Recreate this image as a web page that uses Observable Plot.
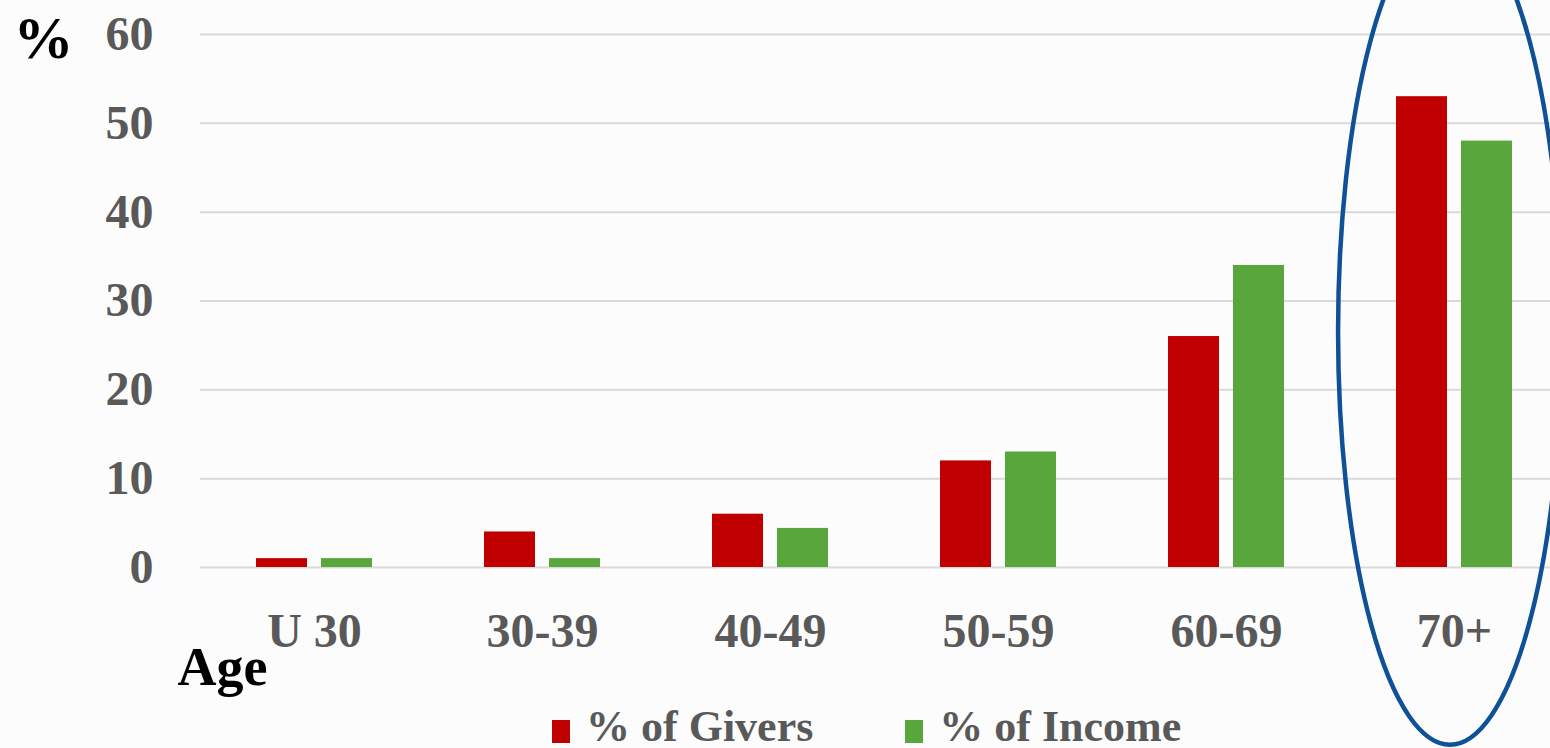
<!DOCTYPE html>
<html>
<head>
<meta charset="utf-8">
<script src="https://cdn.jsdelivr.net/npm/d3@7"></script>
<script src="https://cdn.jsdelivr.net/npm/@observablehq/plot@0.6"></script>
<style>
  html, body { margin: 0; padding: 0; background: #fcfcfc; overflow: hidden; width: 1550px; height: 748px; }
  #chart svg { display: block; }
  .legend { position: relative; height: 43px; font-family: "Liberation Serif", "Times New Roman", serif; font-weight: bold; font-size: 44px; line-height: 43px; color: #595959; white-space: nowrap; padding-left: 552px; }
  .legend .item { display: inline-block; }
  .legend .sw { display: inline-block; width: 18px; height: 23px; vertical-align: -2px; margin-right: 16px; }
</style>
</head>
<body>
<div id="chart"></div>
<script>
const ages = ["U 30", "30-39", "40-49", "50-59", "60-69", "70+"];
const giversPct = [1, 4, 6, 12, 26, 53];
const incomePct = [1, 1, 4.4, 13, 34, 48];
const yTicks = [0, 10, 20, 30, 40, 50, 60];
const seriesNames = ["% of Givers", "% of Income"];
const seriesColors = ["#C00000", "#58A63C"];
const highlightAge = "70+";
const highlightSpan = [-20, 73];

const givers = ages.map((a, i) => ({age: a, value: giversPct[i]}));
const income = ages.map((a, i) => ({age: a, value: incomePct[i]}));

const font = "'Liberation Serif', 'Times New Roman', serif";

function ellipseMark(index, scales) {
  const sx = scales.x, sy = scales.y;
  let bw = sx.bandwidth;
  bw = typeof bw === "function" ? bw() : (bw ?? 116);
  const cx = sx(highlightAge) + bw / 2 - 4;
  const y1 = sy(highlightSpan[0]), y2 = sy(highlightSpan[1]);
  const cy = (y1 + y2) / 2, ry = Math.abs(y1 - y2) / 2;
  const el = document.createElementNS("http://www.w3.org/2000/svg", "ellipse");
  el.setAttribute("cx", cx);
  el.setAttribute("cy", cy);
  el.setAttribute("rx", bw * 0.965);
  el.setAttribute("ry", ry);
  el.setAttribute("fill", "none");
  el.setAttribute("stroke", "#0E5196");
  el.setAttribute("stroke-width", 4.5);
  return el;
}

const plot = Plot.plot({
  width: 1568,
  height: 705,
  marginLeft: 200,
  marginRight: 0,
  marginTop: 34,
  marginBottom: 138,
  style: {background: "transparent", overflow: "visible", maxWidth: "none", fontFamily: font},
  x: {type: "band", domain: ages, paddingInner: 0.4912, paddingOuter: 0.2456},
  y: {domain: [0, 60]},
  marks: [
    Plot.ruleY(yTicks, {stroke: "#d9d9d9", strokeWidth: 2}),
    Plot.barY(givers, {x: "age", y: "value", fill: seriesColors[0], insetRight: 65}),
    Plot.barY(income, {x: "age", y: "value", fill: seriesColors[1], insetLeft: 65}),
    Plot.axisY({ticks: yTicks, tickSize: 0, tickPadding: 47, fontSize: 48, fontWeight: "bold", fill: "#595959", label: null}),
    Plot.axisX({tickSize: 0, tickPadding: 45, fontSize: 48, fontWeight: "bold", fill: "#595959", label: null}),
    Plot.text(["%"], {frameAnchor: "top-left", lineAnchor: "middle", dx: -187, dy: 4, textAnchor: "start", fontSize: 60, fontWeight: "bold", fill: "#000"}),
    Plot.text(["Age"], {frameAnchor: "bottom-left", lineAnchor: "middle", dx: -23, dy: 100, textAnchor: "start", fontSize: 54, fontWeight: "bold", fill: "#000"}),
    ellipseMark
  ]
});
document.getElementById("chart").appendChild(plot);

const legend = document.createElement("div");
legend.className = "legend";
seriesNames.forEach((name, i) => {
  const item = document.createElement("span");
  item.className = "item";
  if (i > 0) item.style.marginLeft = "92px";
  const sw = document.createElement("span");
  sw.className = "sw";
  sw.style.background = seriesColors[i];
  item.appendChild(sw);
  item.appendChild(document.createTextNode(name));
  legend.appendChild(item);
});
document.getElementById("chart").appendChild(legend);
</script>
</body>
</html>
